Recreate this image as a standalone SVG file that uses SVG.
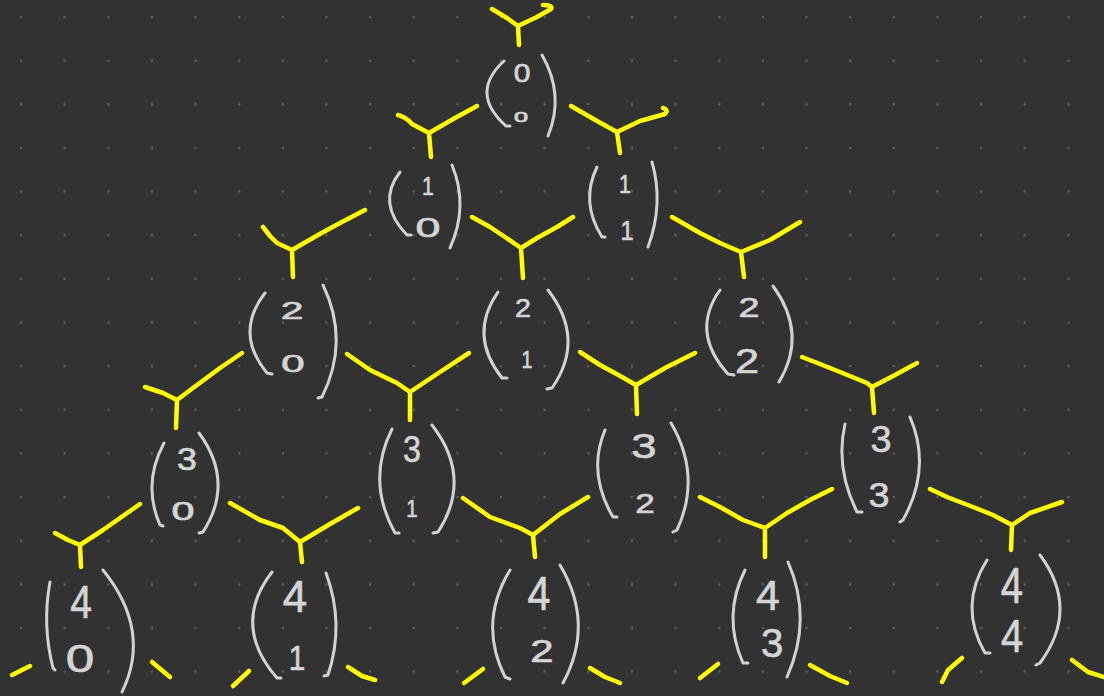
<svg xmlns="http://www.w3.org/2000/svg" width="1104" height="696" viewBox="0 0 1104 696">
  <defs>
    <!-- dotted canvas grid -->
    <pattern id="dots" patternUnits="userSpaceOnUse" x="-0.82" y="-4.82" width="43.64" height="43.64">
      <circle cx="21.82" cy="21.82" r="1.3" fill="#5e5e5e"/>
    </pattern>
    <style>
      .br { fill: none; stroke: #d2d2d2; stroke-width: 3; stroke-linecap: round; stroke-linejoin: round; }
      .d { font-family: "Liberation Sans", Arial, sans-serif; fill: #d4d4d4; stroke: #d4d4d4; stroke-width: 0.7; stroke-linejoin: round; text-anchor: middle; }
      .y { fill: none; stroke: #ffff00; stroke-width: 4.5; stroke-linecap: round; stroke-linejoin: round; }
    </style>
  </defs>

  <rect width="1104" height="696" fill="#323232"/>
  <rect width="1104" height="696" fill="url(#dots)"/>

  <!-- Y-shaped links joining each coefficient to the two above it -->
  <g id="connectors" class="y">
    <path d="M492,9 L507,18 L518,26 M518,26 L537,17 L551,9 Q553,5 543,5 M518,26 L519,45"/>
    <path d="M398,115 Q406,117 412,124 L429,133 M429,133 L455,118 L477,106 M429,133 L431,157"/>
    <path d="M571,106 L597,121 L617,132 M617,132 L640,121 L665,114 Q669,110 663,108 M617,132 L620,153"/>
    <path d="M263,227 L270,236 L277,243 L292,250 M292,250 L318,235 L340,223 L365,210 M292,250 L293,277"/>
    <path d="M472,217 L490,227 L505,237 L521,248 M521,248 L537,238 L557,227 L573,217 M521,248 L523,278"/>
    <path d="M672,217 L700,233 L720,243 L741,252 M741,252 L770,240 L800,222 M741,252 L744,277"/>
    <path d="M145,387 L163,393 L177,400 M177,400 L197,385 L220,368 L242,353 M177,400 L176,428"/>
    <path d="M347,354 L370,370 L397,383 L410,392 M410,392 L440,372 L469,353 M410,392 L410,420"/>
    <path d="M580,352 L600,365 L622,377 L636,385 M636,385 L665,368 L695,353 M636,385 L637,414"/>
    <path d="M802,357 L820,364 L840,372 L867,383 L872,387 M872,387 L895,375 L917,363 M872,387 L874,413"/>
    <path d="M55,533 L68,540 L80,545 M80,545 L103,530 L140,504 M80,545 L81,567"/>
    <path d="M230,503 L260,520 L283,528 L300,542 M300,542 L330,524 L358,508 M300,542 L302,562"/>
    <path d="M463,498 L490,517 L520,528 L533,535 M533,535 L560,514 L588,497 M533,535 L535,557"/>
    <path d="M700,497 L720,507 L743,520 L765,528 M765,528 L787,513 L810,500 L832,489 M765,528 L765,557"/>
    <path d="M930,489 L947,497 L973,507 L993,515 L1012,525 M1012,525 L1030,513 L1062,502 M1012,525 L1011,550"/>
    <!-- arms leaving the bottom edge -->
    <path d="M12,675 L30,666"/>
    <path d="M152,662 L170,677"/>
    <path d="M233,686 L249,671"/>
    <path d="M348,667 L362,676 L375,680"/>
    <path d="M464,683 L483,669"/>
    <path d="M590,668 L605,677 L620,683"/>
    <path d="M700,678 L718,664"/>
    <path d="M810,665 L830,676 L847,683"/>
    <path d="M942,682 L948,670 L962,658"/>
    <path d="M1072,660 L1088,672 L1104,677"/>
  </g>

  <!-- row 0 -->
  <g id="c0_0">
    <path class="br" d="M504,61 Q469,93 506,126 l4,0"/>
    <path class="br" d="M542,55 Q565,95 548,136"/>
    <text class="d" transform="translate(522 82) scale(1.2 1)" font-size="25">0</text>
    <text class="d" transform="translate(521 122) scale(1.8 1)" font-size="14">0</text>
  </g>

  <!-- row 1 -->
  <g id="c1_0">
    <path class="br" d="M400,172 Q376,203 407,235 l4,0"/>
    <path class="br" d="M452,165 Q469,206 450,248"/>
    <text class="d" transform="translate(428 195) scale(.85 1)" font-size="25">1</text>
    <text class="d" transform="translate(428 237) scale(1.6 1)" font-size="28">0</text>
  </g>
  <g id="c1_1">
    <path class="br" d="M597,167 Q580,202 602,237 l3,0"/>
    <path class="br" d="M652,162 Q664,204 648,247"/>
    <text class="d" transform="translate(625 193) scale(.85 1)" font-size="25">1</text>
    <text class="d" transform="translate(627 240) scale(.85 1)" font-size="28">1</text>
  </g>

  <!-- row 2 -->
  <g id="c2_0">
    <path class="br" d="M265,293 Q234,333 267,373 l5,1"/>
    <path class="br" d="M323,285 Q350,341 322,397 l-4,1"/>
    <text class="d" transform="translate(292 319) scale(1.7 1)" font-size="24">2</text>
    <text class="d" transform="translate(293 372) scale(1.75 1)" font-size="24">0</text>
  </g>
  <g id="c2_1">
    <path class="br" d="M498,292 Q468,335 502,378 l5,0"/>
    <path class="br" d="M548,290 Q586,339 552,388 l-5,1"/>
    <text class="d" transform="translate(523 317) scale(1.1 1)" font-size="26">2</text>
    <text class="d" transform="translate(527 368) scale(.85 1)" font-size="23">1</text>
  </g>
  <g id="c2_2">
    <path class="br" d="M720,290 Q690,332 728,374 l6,1"/>
    <path class="br" d="M773,286 Q808,334 779,382"/>
    <text class="d" transform="translate(749 317) scale(1.35 1)" font-size="28">2</text>
    <text class="d" transform="translate(747 373) scale(1.2 1)" font-size="36">2</text>
  </g>

  <!-- row 3 -->
  <g id="c3_0">
    <path class="br" d="M164,443 Q142,484 160,525 l3,1"/>
    <path class="br" d="M199,433 Q235,482 203,532 l-4,1"/>
    <text class="d" transform="translate(187 470) scale(1.15 1)" font-size="31">3</text>
    <text class="d" transform="translate(183 520) scale(1.65 1)" font-size="25">0</text>
  </g>
  <g id="c3_1">
    <path class="br" d="M392,429 Q366,481 395,533 l4,0"/>
    <path class="br" d="M432,425 Q473,478 438,532 l-5,1"/>
    <text class="d" transform="translate(412 462) scale(.87 1)" font-size="37">3</text>
    <text class="d" transform="translate(412 517) scale(.85 1)" font-size="24">1</text>
  </g>
  <g id="c3_2">
    <path class="br" d="M605,430 Q587,473 613,517 l4,0"/>
    <path class="br" d="M671,423 Q702,476 677,530 l-4,2"/>
    <text class="d" transform="translate(644 458) scale(1.3 1)" font-size="35">3</text>
    <text class="d" transform="translate(645 513) scale(1.25 1)" font-size="28">2</text>
  </g>
  <g id="c3_3">
    <path class="br" d="M845,424 Q835,468 857,512 l5,0"/>
    <path class="br" d="M910,417 Q932,468 903,520 l-3,2"/>
    <text class="d" transform="translate(881 452) scale(1.02 1)" font-size="37">3</text>
    <text class="d" transform="translate(879 507) scale(1.08 1)" font-size="35">3</text>
  </g>

  <!-- row 4 -->
  <g id="c4_0">
    <path class="br" d="M50,582 Q42,625 53,668 l2,2"/>
    <path class="br" d="M103,570 Q152,631 122,692"/>
    <text class="d" transform="translate(81 618) scale(.85 1)" font-size="46">4</text>
    <text class="d" transform="translate(80 672) scale(1.35 1)" font-size="38">0</text>
  </g>
  <g id="c4_1">
    <path class="br" d="M272,572 Q231,625 277,678 l4,0"/>
    <path class="br" d="M326,573 Q345,624 328,675 l-4,1"/>
    <text class="d" transform="translate(295 612) scale(1 1)" font-size="44">4</text>
    <text class="d" transform="translate(297 670) scale(.85 1)" font-size="35">1</text>
  </g>
  <g id="c4_2">
    <path class="br" d="M510,570 Q478,623 505,677 l5,2"/>
    <path class="br" d="M560,565 Q595,624 563,683"/>
    <text class="d" transform="translate(539 610) scale(.86 1)" font-size="48">4</text>
    <text class="d" transform="translate(542 662) scale(1.35 1)" font-size="31">2</text>
  </g>
  <g id="c4_3">
    <path class="br" d="M745,570 Q722,616 743,663 l5,0"/>
    <path class="br" d="M788,562 Q813,619 787,677"/>
    <text class="d" transform="translate(768 610) scale(1.02 1)" font-size="42">4</text>
    <text class="d" transform="translate(772 657) scale(1 1)" font-size="40">3</text>
  </g>
  <g id="c4_4">
    <path class="br" d="M987,560 Q958,606 985,653 l5,0"/>
    <path class="br" d="M1040,555 Q1080,609 1040,663 l-4,2"/>
    <text class="d" transform="translate(1012 603) scale(.8 1)" font-size="50">4</text>
    <text class="d" transform="translate(1012 652) scale(.85 1)" font-size="47">4</text>
  </g>
</svg>
